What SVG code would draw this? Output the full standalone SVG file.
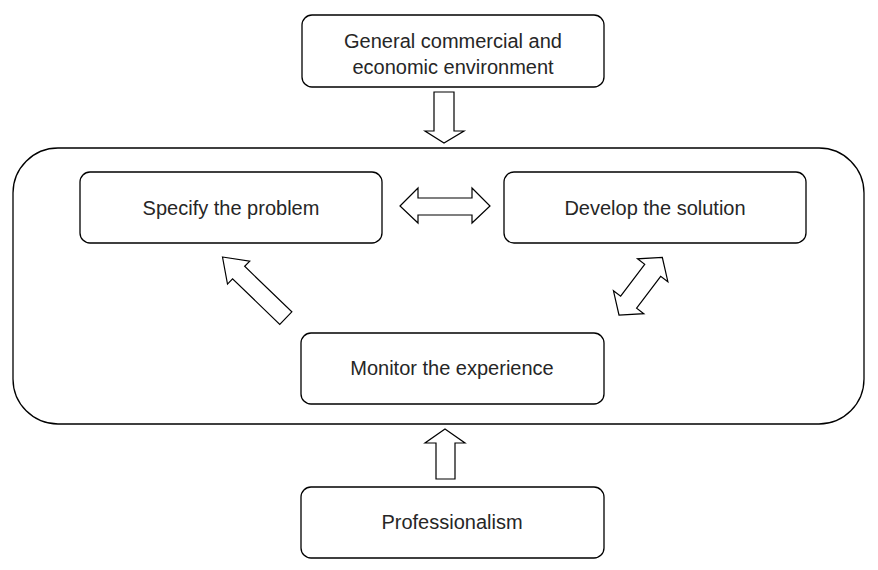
<svg xmlns="http://www.w3.org/2000/svg" width="878" height="570" viewBox="0 0 878 570">
<style>
.box{fill:#fff;stroke:#000;stroke-width:1.3}
.arr{fill:#fff;stroke:#000;stroke-width:1.2;stroke-linejoin:miter}
text{font-family:"Liberation Sans",Arial,sans-serif;font-size:20px;fill:#262626;text-anchor:middle}
</style>
<rect width="878" height="570" fill="#fff"/>
<g id="container"><rect class="box" x="13" y="148" width="851" height="276" rx="45" ry="45"/></g>
<g id="env"><rect class="box" x="302" y="15" width="302" height="72" rx="10"/><text x="453" y="48">General commercial and</text><text x="453" y="74">economic environment</text></g>
<g id="specify"><rect class="box" x="80" y="172" width="302" height="71" rx="10"/><text x="231" y="215">Specify the problem</text></g>
<g id="develop"><rect class="box" x="504" y="172" width="302" height="71" rx="10"/><text x="655" y="215">Develop the solution</text></g>
<g id="monitor"><rect class="box" x="301" y="333" width="303" height="71" rx="10"/><text x="452" y="375">Monitor the experience</text></g>
<g id="prof"><rect class="box" x="301" y="487" width="303" height="71" rx="10"/><text x="452" y="529">Professionalism</text></g>
<g id="connectors">
<polygon class="arr" points="434,92 454,92 454,131 464,131 444,143 425,131 434,131"/>
<polygon class="arr" points="445,429 465,443 455,443 455,479 436,479 436,443 425,443"/>
<polygon class="arr" points="400,206 418,188 418,198 472,198 472,188 490,206 472,223 472,215 418,215 418,223"/>
<polygon class="arr" transform="translate(222.5,257) rotate(44)" points="0,0 22.4,-16 22.4,-8.7 88,-8.7 88,8.7 22.4,8.7 22.4,16"/>
<polygon class="arr" transform="translate(619,315) rotate(-53)" points="0,0 16,-19 16,-10 56,-10 56,-19 72,0 56,19 56,10 16,10 16,19"/>
</g>
</svg>
